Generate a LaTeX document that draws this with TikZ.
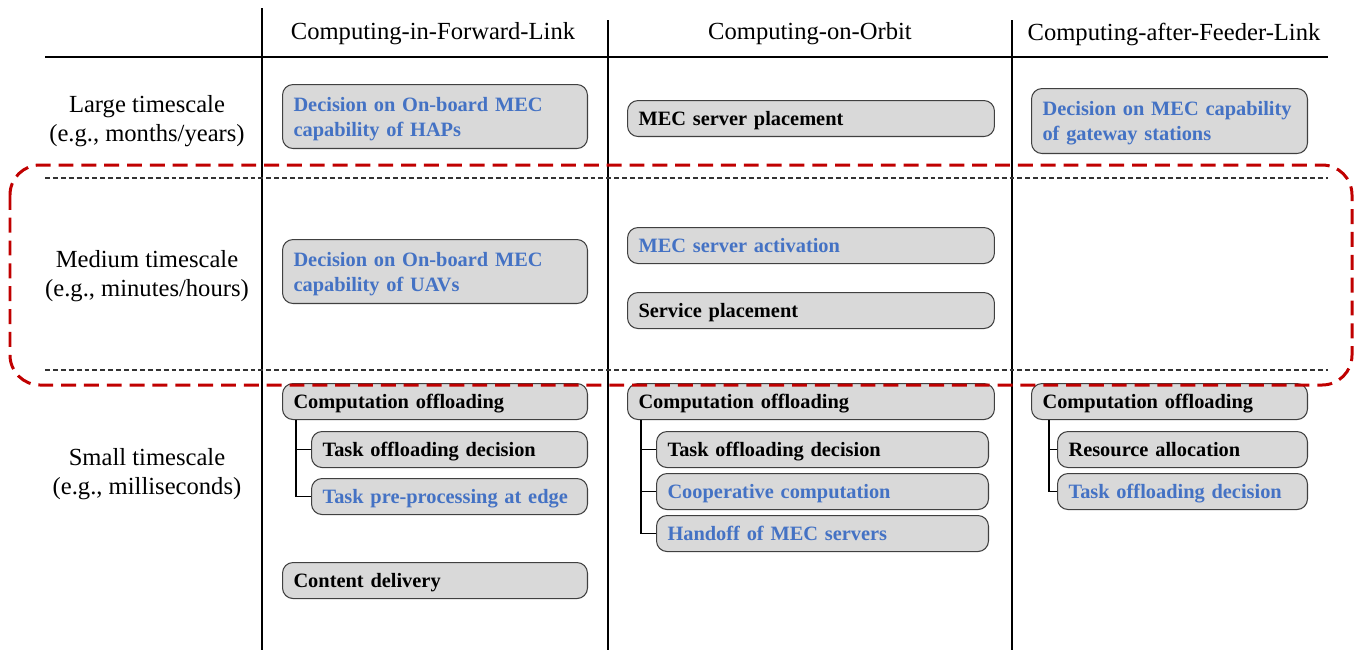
\documentclass[tikz,border=0pt]{standalone}
\usepackage{fontspec}
\setmainfont{Liberation Serif}
\usetikzlibrary{calc}
\definecolor{boxgray}{HTML}{D9D9D9}
\definecolor{hlblue}{HTML}{4472C4}
\definecolor{zonered}{HTML}{C00000}
\tikzset{blk/.style={draw=black!75, fill=boxgray, line width=0.6pt, rounded corners=6pt,
    anchor=north west, align=left, inner xsep=0.22cm, inner ysep=0pt, text width=#1,
    minimum height=0.72cm, text depth=0pt, font=\fontsize{11.6}{14.2}\selectfont\bfseries},
  two/.style={minimum height=1.28cm, text depth=14.2pt},
  hl/.style={text=hlblue},
  lbl/.style={align=center, font=\fontsize{14}{16.8}\selectfont},
  tree/.style={line width=0.6pt},
  rule/.style={line width=1.1pt},
  sep/.style={line width=0.6pt, black!80, dash pattern=on 2.8pt off 1.7pt},
  zone/.style={line width=1.7pt, zonered, rounded corners=17pt, dash pattern=on 8.5pt off 4.5pt}}

\begin{document}
\begin{tikzpicture}[x=0.02cm, y=-0.02cm]
  \useasboundingbox (0,0) rectangle (1359,650);
  % table rules
  \draw[rule] (45,57) -- (1328,57);
  \draw[rule] (262,8) -- (262,650);
  \draw[rule] (608,20) -- (608,650);
  \draw[rule] (1012,20) -- (1012,650);
  \draw[sep] (45,178) -- (1328,178);
  \draw[sep] (45,370) -- (1328,370);
  % headers and rows
  \node[lbl] (fwd) at (433,34) {Computing-in-Forward-Link};
  \node[lbl] (orb) at (810,34) {Computing-on-Orbit};
  \node[lbl] (fdr) at (1174,34) {Computing-after-Feeder-Link};
  \node[lbl] (large) at (147,121) {Large timescale\\(e.g., months/years)};
  \node[lbl] (medium) at (147,276) {Medium timescale\\(e.g., minutes/hours)};
  \node[lbl] (small) at (147,474) {Small timescale\\(e.g., milliseconds)};
  % forward link
  \node[blk=5.66cm, two, hl] (haps) at (282,84) {Decision on On-board MEC\\capability of HAPs};
  \node[blk=5.66cm, two, hl] (uavs) at (282,239) {Decision on On-board MEC\\capability of UAVs};
  \node[blk=5.66cm] (off1) at (282,383) {Computation offloading};
  \node[blk=5.08cm] (tod1) at (311,431) {Task offloading decision};
  \node[blk=5.08cm, hl] (pre1) at (311,478) {Task pre-processing at edge};
  \node[blk=5.66cm] (cdel) at (282,562) {Content delivery};
  \draw[tree] ($(off1.south west)+(14,0)$) |- (tod1.west);
  \draw[tree] ($(off1.south west)+(14,0)$) |- (pre1.west);
  % on orbit
  \node[blk=6.9cm] (mecp) at (627,100) {MEC server placement};
  \node[blk=6.9cm, hl] (meca) at (627,227) {MEC server activation};
  \node[blk=6.9cm] (svcp) at (627,292) {Service placement};
  \node[blk=6.9cm] (off2) at (627,383) {Computation offloading};
  \node[blk=6.2cm] (tod2) at (656,431) {Task offloading decision};
  \node[blk=6.2cm, hl] (coop) at (656,473) {Cooperative computation};
  \node[blk=6.2cm, hl] (hand) at (656,515) {Handoff of MEC servers};
  \draw[tree] ($(off2.south west)+(14,0)$) |- (tod2.west);
  \draw[tree] ($(off2.south west)+(14,0)$) |- (coop.west);
  \draw[tree] ($(off2.south west)+(14,0)$) |- (hand.west);
  % feeder link
  \node[blk=5.08cm, two, hl, minimum height=1.3cm] (gws) at (1031,88) {Decision on MEC capability\\of gateway stations};
  \node[blk=5.08cm] (off3) at (1031,383) {Computation offloading};
  \node[blk=4.56cm] (ralloc) at (1057,431) {Resource allocation};
  \node[blk=4.56cm, hl] (tod3) at (1057,473) {Task offloading decision};
  \draw[tree] ($(off3.south west)+(18,0)$) |- (ralloc.west);
  \draw[tree] ($(off3.south west)+(18,0)$) |- (tod3.west);
  % medium timescale zone
  \draw[zone] (10,165) rectangle (1352,385);
\end{tikzpicture}
\end{document}
